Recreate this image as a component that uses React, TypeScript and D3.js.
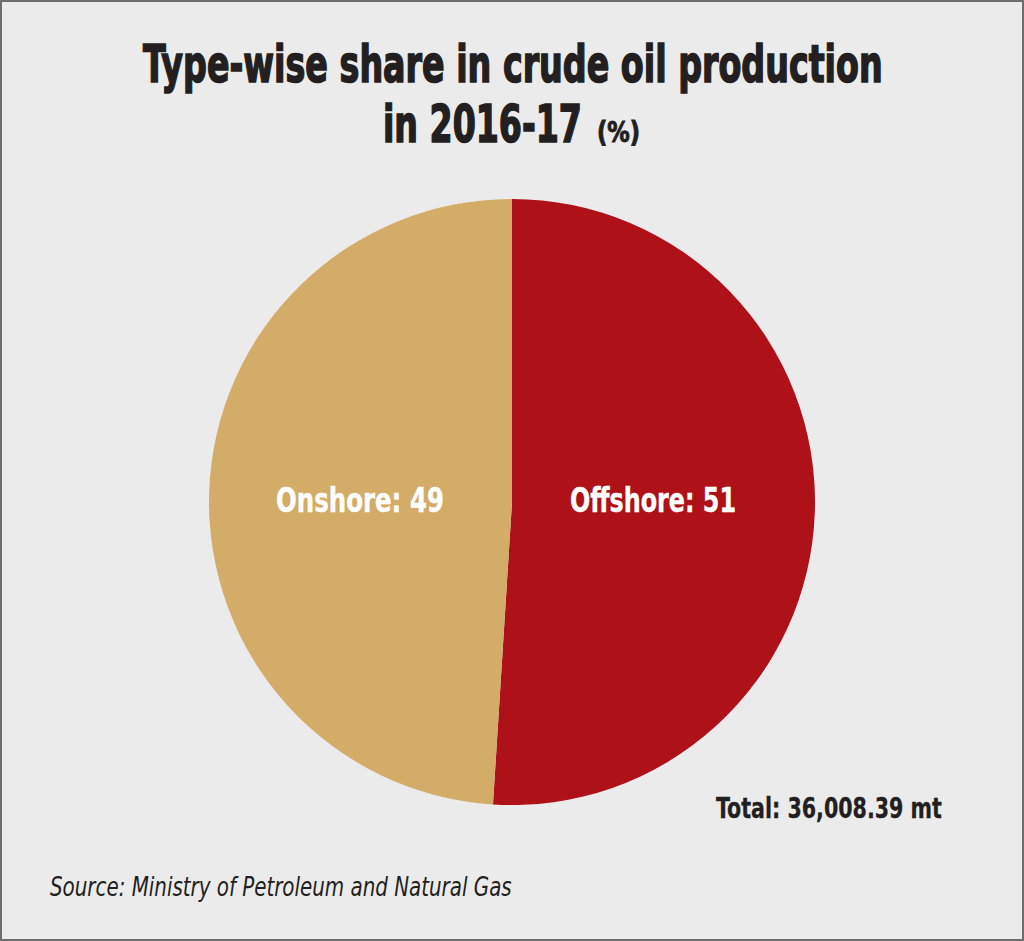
import React, { useEffect, useRef } from "react";
import * as d3 from "d3";

const categories = ["Offshore", "Onshore"];
const shares = [51, 49];
const sliceColors = ["#ae1117", "#d3ac68"];
const titleLines = ["Type-wise share in crude oil production", "in 2016-17"];
const unitLabel = "(%)";
const totalLabel = "Total: 36,008.39 mt";
const sourceLabel = "Source: Ministry of Petroleum and Natural Gas";

const W = 1024;
const H = 941;

const App: React.FC = () => {
  const ref = useRef<SVGSVGElement>(null);

  useEffect(() => {
    const svg = d3.select(ref.current);
    svg.selectAll("*").remove();

    const narrow = "'DejaVu Sans Condensed', 'Liberation Sans Narrow', Arial, sans-serif";

    // squeeze a text horizontally so it spans the given width
    const fitText = (
      x: number,
      y: number,
      width: number,
      txt: string,
      size: number,
      opts: { weight?: string; style?: string; fill?: string; stroke?: number } = {}
    ) => {
      const t = svg
        .append("text")
        .attr("x", 0)
        .attr("y", 0)
        .attr("font-family", narrow)
        .attr("font-weight", opts.weight || "normal")
        .attr("font-style", opts.style || "normal")
        .attr("font-size", size)
        .attr("fill", opts.fill || "#231f20")
        .text(txt);
      if (opts.stroke) {
        t.attr("stroke", opts.fill || "#231f20").attr("stroke-width", opts.stroke);
      }
      const natural = (t.node() as SVGTextElement).getComputedTextLength();
      const sx = width / natural;
      t.attr("transform", `translate(${x}, ${y}) scale(${sx}, 1)`);
      return t;
    };

    // background + frame
    svg
      .append("rect")
      .attr("x", 1)
      .attr("y", 1)
      .attr("width", W - 2)
      .attr("height", H - 2)
      .attr("fill", "#ecebec")
      .attr("stroke", "#6e6e6e")
      .attr("stroke-width", 2);

    // title
    fitText(143, 82, 740, titleLines[0], 52, { weight: "bold", stroke: 1.6 });
    fitText(383, 142, 199, titleLines[1], 52, { weight: "bold", stroke: 1.6 });
    fitText(597, 142, 43, unitLabel, 29, { weight: "bold", stroke: 1 });

    // pie
    const cx = 512;
    const cy = 502;
    const radius = 303;

    const pie = d3
      .pie<number>()
      .sort(null)
      .value((d) => d);
    const arcs = pie(shares);
    const arc = d3.arc<d3.PieArcDatum<number>>().innerRadius(0).outerRadius(radius);

    const g = svg.append("g").attr("transform", `translate(${cx}, ${cy})`);

    g.selectAll("path")
      .data(arcs)
      .enter()
      .append("path")
      .attr("d", arc)
      .attr("fill", (d, i) => sliceColors[i]);

    // slice labels
    const labelPos = [
      { x: 570, w: 166 },
      { x: 276, w: 168 },
    ];
    arcs.forEach((d, i) => {
      fitText(labelPos[i].x, 512, labelPos[i].w, `${categories[i]}: ${d.data}`, 34, {
        weight: "bold",
        fill: "#ffffff",
        stroke: 0.4,
      });
    });

    // total
    fitText(716, 818, 226, totalLabel, 28, { weight: "bold", stroke: 0.3 });

    // source
    fitText(50, 896, 462, sourceLabel, 26, { style: "italic" });
  }, []);

  return (
    <svg
      ref={ref}
      width={W}
      height={H}
      style={{ position: "absolute", left: 0, top: 0, display: "block" }}
    />
  );
};

export default App;
